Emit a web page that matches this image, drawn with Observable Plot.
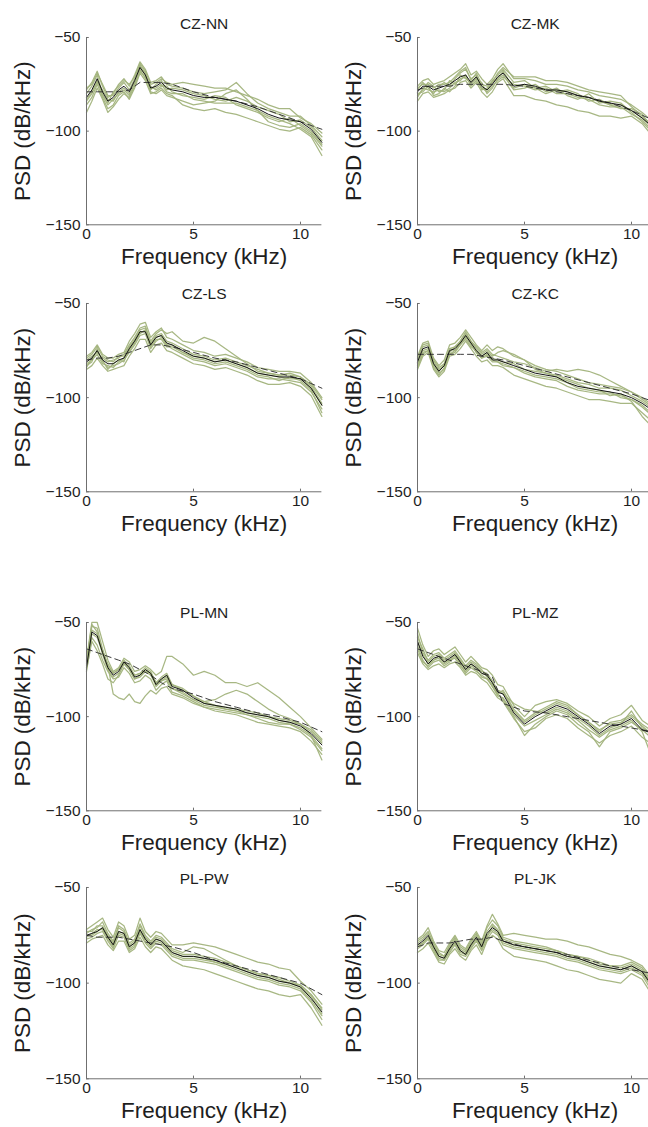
<!DOCTYPE html>
<html><head><meta charset="utf-8">
<script src="https://cdn.jsdelivr.net/npm/d3@7"></script>
<script src="https://cdn.jsdelivr.net/npm/@observablehq/plot@0.6"></script>
<style>
html,body{margin:0;padding:0;background:#fff;}
#wrap{position:relative;width:648px;height:1127px;overflow:hidden;background:#fff;}
.panel{position:absolute;}
</style></head><body><div id="wrap"></div>
<script>
// ---- data ----
const freqGrid = [0,0.25,0.5,0.75,1,1.25,1.5,1.75,2,2.25,2.5,2.75,3,3.25,3.5,3.75,4,4.5,5,5.5,6,6.5,7,7.5,8,8.5,9,9.5,10,10.5,11];
const dashGrid = [0,0.5,1,1.5,2,2.5,3,3.5,4,5,6,7,8,9,10,11];
const panelTitles = ["CZ-NN","CZ-MK","CZ-LS","CZ-KC","PL-MN","PL-MZ","PL-PW","PL-JK"];
const xTicks = [0,5,10];
const yTicks = [-50,-100,-150];
const xLabel = "Frequency (kHz)";
const yLabel = "PSD (dB/kHz)";

const czNN_mean = [-82,-78,-72,-79,-84,-82,-78,-76,-79,-73,-66,-70,-77,-76,-74,-77,-78,-79,-81,-82,-82,-83,-84,-86,-88,-91,-93,-94,-95,-99,-106];
const czNN_dash = [-79,-79,-79,-79,-78,-74,-74,-74,-75,-79,-82,-84,-87,-91,-95,-99];
const czNN_green = [
[-78,-74,-68,-76,-82,-80,-75,-72,-76,-70,-63,-67,-74,-73,-71,-75,-76,-77,-79,-80,-79,-78,-74,-80,-85,-88,-90,-92,-92,-97,-103],
[-86,-82,-75,-82,-88,-86,-81,-79,-83,-77,-69,-73,-80,-79,-77,-80,-81,-86,-88,-89,-88,-90,-91,-93,-95,-97,-99,-100,-98,-102,-110],
[-80,-76,-70,-80,-85,-79,-76,-73,-75,-71,-65,-69,-78,-75,-73,-78,-77,-78,-80,-81,-83,-84,-82,-84,-87,-89,-91,-95,-94,-98,-105],
[-84,-80,-74,-78,-83,-84,-79,-77,-80,-74,-67,-72,-76,-78,-76,-76,-79,-81,-82,-83,-81,-82,-86,-88,-90,-93,-95,-93,-97,-101,-108],
[-90,-84,-77,-83,-90,-87,-83,-80,-82,-76,-68,-71,-79,-80,-78,-81,-82,-84,-86,-85,-84,-80,-78,-83,-89,-92,-94,-96,-99,-103,-113],
[-77,-75,-69,-75,-81,-81,-77,-74,-78,-72,-64,-68,-75,-74,-72,-74,-75,-74,-75,-76,-77,-77,-79,-81,-83,-86,-88,-88,-93,-96,-101],
[-83,-79,-73,-81,-86,-83,-80,-78,-81,-75,-66,-70,-77,-77,-75,-79,-80,-80,-83,-84,-85,-85,-85,-87,-89,-95,-97,-98,-96,-100,-107]];

const czMK_mean = [-79,-76,-76,-78,-77,-76,-75,-73,-71,-70,-74,-71,-76,-78,-75,-71,-69,-76,-75,-76,-78,-78,-79,-81,-82,-84,-85,-86,-89,-93,-98];
const czMK_dash = [-78,-76,-76,-76,-75,-75,-75,-75,-75,-76,-78,-80,-82,-85,-89,-94];
const czMK_green = [
[-76,-73,-72,-75,-74,-73,-71,-69,-67,-64,-70,-68,-72,-75,-72,-67,-64,-72,-72,-73,-75,-75,-76,-78,-79,-81,-82,-83,-86,-90,-95],
[-84,-80,-79,-82,-81,-80,-78,-77,-74,-73,-77,-74,-79,-82,-79,-74,-72,-81,-81,-83,-84,-86,-87,-89,-90,-92,-92,-93,-92,-96,-103],
[-78,-74,-77,-80,-76,-74,-76,-72,-69,-67,-72,-70,-78,-77,-73,-70,-67,-74,-73,-77,-76,-79,-78,-80,-84,-83,-86,-88,-88,-91,-99],
[-81,-78,-74,-76,-79,-78,-73,-75,-72,-71,-75,-72,-74,-80,-77,-72,-70,-78,-77,-75,-79,-77,-81,-83,-80,-85,-84,-85,-90,-95,-101],
[-82,-77,-78,-79,-78,-79,-77,-74,-73,-70,-76,-73,-77,-79,-76,-73,-71,-75,-76,-78,-77,-80,-80,-82,-83,-86,-87,-87,-91,-94,-100],
[-77,-75,-75,-77,-75,-75,-74,-71,-68,-66,-73,-69,-75,-76,-74,-69,-66,-71,-71,-71,-73,-73,-74,-76,-78,-79,-80,-81,-87,-92,-97],
[-80,-79,-76,-81,-80,-77,-79,-76,-70,-72,-74,-71,-77,-78,-74,-72,-68,-77,-75,-77,-80,-78,-79,-81,-82,-84,-86,-86,-89,-93,-98]];

const czLS_mean = [-81,-79,-75,-80,-82,-82,-80,-79,-74,-70,-65,-65,-72,-68,-67,-71,-72,-75,-78,-79,-81,-80,-82,-84,-87,-88,-89,-89,-90,-95,-104];
const czLS_dash = [-80,-79,-79,-78,-76,-74,-72,-72,-73,-76,-79,-81,-84,-87,-90,-95];
const czLS_green = [
[-78,-76,-72,-77,-79,-79,-77,-76,-70,-66,-61,-60,-68,-65,-63,-68,-69,-72,-75,-76,-78,-77,-79,-81,-84,-85,-86,-86,-87,-92,-100],
[-85,-83,-79,-83,-86,-85,-84,-83,-78,-74,-69,-69,-76,-72,-71,-75,-76,-79,-82,-83,-85,-84,-86,-88,-91,-93,-93,-92,-94,-99,-110],
[-80,-78,-76,-79,-81,-80,-79,-77,-72,-68,-63,-62,-70,-66,-64,-66,-65,-70,-71,-68,-70,-74,-78,-82,-86,-87,-88,-87,-89,-94,-103],
[-83,-81,-74,-81,-84,-83,-82,-80,-76,-72,-67,-66,-74,-70,-68,-72,-74,-77,-80,-81,-83,-82,-84,-86,-89,-90,-90,-91,-92,-97,-106],
[-79,-77,-73,-78,-80,-81,-78,-78,-73,-69,-64,-63,-71,-67,-66,-70,-71,-74,-77,-78,-80,-79,-81,-83,-85,-87,-88,-88,-89,-93,-101],
[-82,-80,-77,-82,-83,-84,-81,-79,-75,-71,-66,-64,-73,-69,-69,-73,-73,-76,-79,-80,-82,-81,-83,-85,-88,-89,-91,-89,-91,-96,-108],
[-84,-79,-75,-80,-85,-82,-80,-81,-74,-70,-65,-65,-72,-68,-67,-72,-72,-76,-78,-79,-81,-80,-82,-84,-87,-88,-89,-90,-90,-95,-104]];

const czKC_mean = [-81,-74,-73,-82,-86,-83,-75,-74,-71,-67,-71,-75,-78,-76,-80,-80,-81,-83,-85,-87,-88,-89,-92,-94,-95,-96,-97,-98,-100,-103,-107];
const czKC_dash = [-77,-77,-77,-77,-77,-77,-78,-79,-80,-83,-86,-89,-92,-95,-98,-102];
const czKC_green = [
[-78,-71,-70,-79,-83,-80,-72,-71,-68,-64,-68,-72,-75,-72,-75,-73,-74,-78,-80,-83,-85,-86,-88,-90,-92,-93,-94,-95,-97,-100,-104],
[-85,-78,-76,-85,-89,-86,-78,-77,-74,-70,-74,-78,-81,-80,-83,-83,-84,-88,-90,-92,-94,-95,-97,-99,-101,-101,-102,-103,-103,-108,-113],
[-80,-73,-72,-80,-84,-82,-74,-73,-70,-66,-70,-73,-76,-74,-77,-78,-79,-81,-82,-84,-86,-85,-86,-85,-86,-88,-91,-94,-97,-101,-105],
[-83,-76,-75,-84,-88,-84,-77,-76,-72,-68,-72,-76,-79,-78,-81,-81,-83,-84,-87,-89,-90,-91,-94,-96,-97,-98,-98,-99,-101,-105,-110],
[-79,-72,-71,-81,-85,-83,-74,-75,-70,-65,-70,-74,-77,-75,-78,-76,-75,-77,-80,-85,-87,-88,-90,-92,-93,-95,-95,-96,-99,-102,-106],
[-82,-75,-74,-83,-87,-85,-76,-73,-71,-67,-71,-76,-79,-77,-80,-81,-82,-84,-86,-88,-89,-90,-92,-95,-96,-97,-97,-100,-101,-104,-109],
[-84,-77,-75,-82,-86,-82,-77,-75,-72,-69,-73,-75,-78,-76,-79,-80,-81,-82,-85,-86,-87,-89,-91,-93,-95,-96,-99,-98,-102,-110,-116]];

const plMN_mean = [-74,-55,-57,-66,-74,-78,-76,-71,-74,-79,-78,-75,-77,-83,-80,-78,-84,-86,-90,-93,-94,-95,-96,-98,-99,-100,-102,-103,-105,-109,-115];
const plMN_dash = [-64,-66,-68,-70,-72,-75,-78,-82,-85,-88,-92,-95,-98,-100,-103,-108];
const plMN_green = [
[-70,-50,-50,-60,-70,-76,-74,-69,-71,-76,-75,-73,-75,-78,-76,-68,-68,-72,-78,-76,-78,-82,-82,-84,-82,-86,-90,-95,-100,-106,-112],
[-76,-58,-62,-70,-76,-80,-79,-74,-77,-82,-81,-78,-80,-86,-83,-81,-87,-89,-92,-95,-97,-98,-99,-101,-103,-104,-105,-106,-108,-113,-120],
[-72,-52,-53,-64,-73,-88,-90,-91,-88,-92,-93,-89,-86,-88,-85,-84,-88,-90,-93,-95,-96,-97,-98,-99,-101,-103,-104,-104,-107,-111,-118],
[-75,-60,-65,-72,-80,-82,-78,-72,-75,-80,-79,-76,-77,-84,-81,-79,-85,-88,-91,-92,-91,-88,-86,-88,-92,-96,-99,-101,-104,-108,-114],
[-73,-54,-56,-65,-73,-77,-75,-70,-73,-78,-77,-74,-76,-82,-79,-77,-83,-86,-89,-92,-94,-96,-97,-99,-100,-101,-103,-104,-106,-110,-123],
[-71,-51,-55,-67,-75,-79,-77,-72,-75,-80,-78,-76,-78,-83,-81,-80,-85,-87,-91,-94,-95,-96,-97,-98,-99,-100,-101,-102,-104,-107,-113],
[-74,-56,-58,-66,-72,-77,-75,-71,-74,-78,-77,-75,-77,-82,-80,-78,-83,-85,-89,-93,-94,-95,-96,-97,-98,-100,-102,-103,-104,-110,-117]];

const plMZ_mean = [-60,-68,-72,-69,-68,-71,-69,-67,-71,-75,-72,-74,-77,-78,-82,-87,-88,-98,-104,-100,-97,-94,-96,-100,-104,-109,-105,-104,-101,-107,-109];
const plMZ_dash = [-64,-66,-68,-70,-72,-74,-76,-79,-93,-97,-98,-100,-102,-104,-106,-108];
const plMZ_green = [
[-53,-62,-68,-65,-64,-67,-65,-63,-67,-71,-68,-71,-74,-75,-78,-83,-84,-94,-100,-94,-92,-91,-93,-97,-100,-105,-101,-99,-94,-102,-106],
[-66,-72,-75,-73,-72,-74,-72,-71,-74,-78,-76,-77,-80,-82,-86,-90,-92,-101,-108,-106,-101,-99,-101,-106,-110,-114,-110,-108,-105,-111,-115],
[-56,-66,-70,-67,-66,-69,-67,-65,-69,-73,-70,-72,-75,-79,-84,-88,-86,-96,-102,-98,-95,-92,-94,-99,-103,-108,-103,-102,-99,-104,-108],
[-62,-70,-74,-71,-70,-73,-71,-68,-72,-77,-74,-76,-78,-80,-84,-89,-90,-99,-105,-102,-99,-96,-98,-102,-107,-111,-107,-105,-102,-108,-123],
[-58,-64,-71,-68,-67,-70,-68,-66,-70,-74,-71,-73,-76,-77,-81,-86,-87,-97,-103,-99,-96,-93,-95,-99,-103,-107,-104,-103,-100,-105,-110],
[-64,-71,-73,-70,-69,-72,-70,-69,-73,-76,-73,-75,-79,-80,-83,-88,-91,-100,-110,-104,-100,-97,-99,-104,-108,-116,-108,-106,-103,-107,-112],
[-60,-67,-72,-70,-68,-71,-70,-67,-71,-75,-72,-74,-77,-78,-82,-86,-88,-93,-96,-97,-98,-95,-97,-101,-105,-110,-106,-104,-97,-106,-109]];

const plPW_mean = [-75,-74,-73,-71,-76,-80,-73,-74,-81,-79,-72,-77,-80,-77,-78,-81,-84,-86,-86,-87,-88,-90,-92,-94,-96,-97,-99,-100,-102,-108,-115];
const plPW_dash = [-75,-76,-76,-76,-77,-78,-79,-80,-81,-84,-88,-91,-94,-97,-100,-106];
const plPW_green = [
[-72,-70,-68,-66,-72,-76,-68,-70,-77,-75,-66,-73,-76,-73,-74,-77,-80,-80,-79,-80,-81,-83,-85,-87,-89,-90,-92,-93,-99,-104,-111],
[-79,-77,-76,-75,-80,-83,-78,-78,-84,-82,-76,-81,-84,-81,-82,-85,-88,-91,-92,-93,-95,-97,-99,-101,-103,-104,-106,-107,-106,-113,-122],
[-74,-72,-71,-68,-74,-78,-70,-72,-79,-77,-69,-75,-78,-75,-76,-79,-82,-84,-81,-82,-85,-88,-91,-93,-95,-96,-97,-99,-101,-106,-113],
[-77,-76,-74,-73,-78,-82,-75,-76,-83,-81,-74,-79,-82,-79,-80,-83,-86,-88,-88,-89,-90,-92,-94,-96,-98,-99,-101,-102,-104,-110,-119],
[-73,-73,-70,-70,-75,-79,-71,-73,-80,-78,-70,-76,-79,-76,-77,-80,-83,-85,-85,-86,-87,-89,-91,-93,-95,-96,-98,-100,-101,-106,-114],
[-76,-74,-72,-72,-77,-81,-74,-75,-82,-80,-73,-78,-81,-78,-79,-82,-85,-87,-87,-88,-89,-91,-93,-95,-97,-98,-100,-101,-103,-109,-117],
[-75,-75,-73,-71,-76,-80,-73,-74,-81,-79,-72,-77,-80,-77,-78,-81,-84,-86,-86,-87,-89,-90,-92,-94,-96,-97,-99,-100,-102,-107,-116]];

const plJK_mean = [-80,-78,-75,-81,-86,-87,-82,-78,-83,-85,-80,-76,-81,-74,-71,-73,-78,-80,-81,-82,-83,-84,-86,-87,-89,-91,-92,-93,-91,-94,-102];
const plJK_dash = [-81,-79,-79,-79,-78,-77,-77,-76,-78,-81,-83,-85,-88,-91,-93,-95];
const plJK_green = [
[-77,-75,-71,-78,-83,-84,-79,-75,-80,-82,-77,-73,-78,-70,-64,-69,-75,-74,-75,-76,-77,-77,-78,-80,-81,-83,-85,-86,-88,-91,-98],
[-84,-82,-79,-84,-89,-90,-85,-82,-86,-88,-83,-80,-85,-78,-75,-77,-82,-86,-87,-88,-89,-91,-93,-94,-96,-98,-99,-100,-95,-98,-107],
[-78,-76,-73,-79,-84,-86,-80,-76,-81,-83,-78,-74,-79,-71,-67,-70,-76,-78,-79,-80,-81,-83,-85,-86,-87,-89,-91,-91,-89,-92,-100],
[-82,-80,-77,-83,-88,-88,-84,-80,-85,-86,-82,-78,-83,-77,-73,-75,-80,-82,-83,-84,-85,-86,-88,-89,-91,-93,-94,-95,-93,-96,-105],
[-79,-77,-74,-80,-85,-86,-81,-77,-82,-84,-79,-75,-80,-73,-69,-72,-77,-79,-80,-81,-82,-83,-85,-86,-88,-90,-91,-92,-90,-93,-101],
[-81,-79,-76,-82,-87,-88,-83,-79,-84,-85,-81,-77,-82,-75,-72,-74,-79,-81,-82,-83,-84,-85,-87,-88,-90,-92,-93,-94,-92,-95,-103],
[-80,-79,-76,-81,-86,-87,-82,-79,-83,-85,-80,-77,-81,-76,-70,-73,-78,-80,-81,-82,-83,-84,-86,-87,-89,-91,-92,-93,-91,-94,-102]];

// ---- layout (not data) ----
const panels = [
  {title: panelTitles[0], mean: czNN_mean, dash: czNN_dash, green: czNN_green},
  {title: panelTitles[1], mean: czMK_mean, dash: czMK_dash, green: czMK_green},
  {title: panelTitles[2], mean: czLS_mean, dash: czLS_dash, green: czLS_green},
  {title: panelTitles[3], mean: czKC_mean, dash: czKC_dash, green: czKC_green},
  {title: panelTitles[4], mean: plMN_mean, dash: plMN_dash, green: plMN_green},
  {title: panelTitles[5], mean: plMZ_mean, dash: plMZ_dash, green: plMZ_green},
  {title: panelTitles[6], mean: plPW_mean, dash: plPW_dash, green: plPW_green},
  {title: panelTitles[7], mean: plJK_mean, dash: plJK_dash, green: plJK_green}
];
const rowTop = [36.7, 302.7, 621.7, 886.7];
const rowBottom = [224, 491, 810, 1078];
const titleOffset = [20, 16, 16, 15];
const colX0 = [86, 416.5];
const pxPerK = 21.4;
const font = "'Liberation Sans', Arial, Helvetica, sans-serif";
const wrap = document.getElementById("wrap");

panels.forEach((p, i) => {
  const row = Math.floor(i / 2), col = i % 2;
  const mt = 40, mb = 56, ml = 86, mr = 6;
  const plotH = rowBottom[row] - rowTop[row];
  const W = ml + 11 * pxPerK + mr;
  const H = mt + plotH + mb;
  const greenData = p.green.flatMap((ys, k) => ys.map((v, j) => ({f: freqGrid[j], v, id: k})));
  const meanData = p.mean.map((v, j) => ({f: freqGrid[j], v}));
  const dashData = p.dash.map((v, j) => ({f: dashGrid[j], v}));
  const svg = Plot.plot({
    width: W, height: H,
    marginTop: mt, marginBottom: mb, marginLeft: ml, marginRight: mr,
    style: {background: "transparent", fontFamily: font, color: "#1e1e1e", overflow: "visible"},
    x: {domain: [0, 11]},
    y: {domain: [-150, -50]},
    marks: [
      Plot.line(greenData, {x: "f", y: "v", z: "id", stroke: "#a2b37c", strokeWidth: 1.25, strokeOpacity: 0.95}),
      Plot.line(dashData, {x: "f", y: "v", stroke: "#3a3a3a", strokeWidth: 1, strokeDasharray: "6,4"}),
      Plot.line(meanData, {x: "f", y: "v", stroke: "#141414", strokeWidth: 1}),
      Plot.ruleX([0], {y1: -150, y2: -50, stroke: "#6e6e6e", strokeWidth: 1}),
      Plot.ruleY([-150], {x1: 0, x2: 11, stroke: "#6e6e6e", strokeWidth: 1}),
      Plot.ruleX(xTicks, {y1: -150, y2: -148.6, stroke: "#6e6e6e"}),
      Plot.ruleY(yTicks, {x1: 0, x2: 0.13, stroke: "#6e6e6e"}),
      Plot.axisX({ticks: xTicks, tickSize: 0, tickPadding: 3, fontSize: 15.5, label: null}),
      Plot.axisY({ticks: yTicks, tickSize: 0, tickPadding: 6, fontSize: 15.5, label: null}),
      Plot.text([p.title], {text: d => d, frameAnchor: "top", dy: -titleOffset[row], fontSize: 15.5}),
      Plot.text([xLabel], {text: d => d, frameAnchor: "bottom", dy: 39, fontSize: 22.5}),
      Plot.text([yLabel], {text: d => d, frameAnchor: "left", textAnchor: "middle", dx: -64, rotate: -90, fontSize: 22.5})
    ]
  });
  const div = document.createElement("div");
  div.className = "panel";
  div.style.left = (colX0[col] - ml) + "px";
  div.style.top = (rowTop[row] - mt) + "px";
  div.style.width = W + "px";
  div.appendChild(svg);
  wrap.appendChild(div);
});
</script>
</body></html>
